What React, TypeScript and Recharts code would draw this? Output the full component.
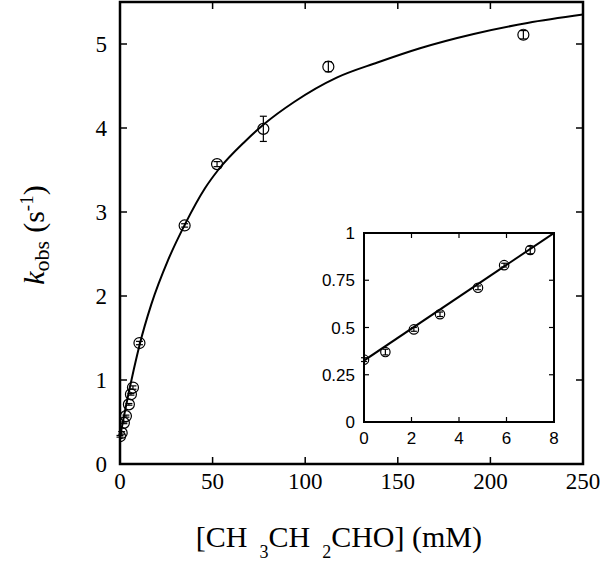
import React from 'react';
import { ComposedChart, Line, Scatter, XAxis, YAxis, ErrorBar, Label, ReferenceArea } from 'recharts';

// low-concentration points (also shown in the inset)
const lowConc = [0, 0.9, 2.1, 3.2, 4.8, 5.9, 7.0];
const lowKobs = [0.33, 0.37, 0.49, 0.57, 0.71, 0.83, 0.91];
const lowErr = [0.01, 0.015, 0.01, 0.012, 0.01, 0.01, 0.02];

// higher-concentration points
const highConc = [10.5, 34.9, 52.4, 77.4, 112.5, 217.8];
const highKobs = [1.44, 2.84, 3.57, 3.99, 4.73, 5.11];
const highErr = [0.02, 0.02, 0.03, 0.15, 0.06, 0.05];

// fitted curve
const fitConc = [0, 2.5, 5, 7.5, 10.6, 16.9, 26, 35, 45.8, 53, 67.5, 78, 94, 117, 139, 162, 191, 220, 250];
const fitKobs = [0.32, 0.61, 0.88, 1.13, 1.42, 1.9, 2.43, 2.85, 3.28, 3.5, 3.84, 4.05, 4.31, 4.6, 4.78, 4.95, 5.12, 5.25, 5.35];

// inset linear fit (end points)
const insetFitConc = [0, 8];
const insetFitKobs = [0.325, 1.0];

const mainXTicks = [0, 50, 100, 150, 200, 250];
const mainYTicks = [0, 1, 2, 3, 4, 5];
const insetXTicks = [0, 2, 4, 6, 8];
const insetYTicks = [0, 0.25, 0.5, 0.75, 1];

const fitData = fitConc.map((x, i) => ({ x, y: fitKobs[i] }));
const lowData = lowConc.map((x, i) => ({ x, y: lowKobs[i], err: lowErr[i] }));
const highData = highConc.map((x, i) => ({ x, y: highKobs[i], err: highErr[i] }));
const mainPoints = [...lowData, ...highData];
const insetFitData = insetFitConc.map((x, i) => ({ x, y: insetFitKobs[i] }));

const SERIF = 'Liberation Serif, Times New Roman, serif';
const SANS = 'Liberation Sans, Arial, sans-serif';

type Box = { top: number; bottom: number; left: number; right: number };

const makeXTick = (box: Box, len: number, sw: number, font: string, size: number) => (props: any) => {
  const { x, y, payload } = props;
  return (
    <g>
      <line x1={x} x2={x} y1={box.bottom} y2={box.bottom - len} stroke="#000" strokeWidth={sw} />
      <line x1={x} x2={x} y1={box.top} y2={box.top + len} stroke="#000" strokeWidth={sw} />
      <text x={x} y={y} dy="0.71em" textAnchor="middle" fontFamily={font} fontSize={size} fill="#000">
        {String(payload.value)}
      </text>
    </g>
  );
};

const makeYTick = (box: Box, len: number, sw: number, font: string, size: number) => (props: any) => {
  const { x, y, payload } = props;
  return (
    <g>
      <line x1={box.left} x2={box.left + len} y1={y} y2={y} stroke="#000" strokeWidth={sw} />
      <line x1={box.right} x2={box.right - len} y1={y} y2={y} stroke="#000" strokeWidth={sw} />
      <text x={x} y={y} dy="0.355em" textAnchor="end" fontFamily={font} fontSize={size} fill="#000">
        {String(payload.value)}
      </text>
    </g>
  );
};

const mainBox: Box = { top: 2, bottom: 464, left: 120, right: 583 };
const insetBox: Box = { top: 13, bottom: 202, left: 64, right: 254 };

const circleShape = (r: number) => (props: any) => (
  <circle cx={props.cx} cy={props.cy} r={r} fill="none" stroke="#000" strokeWidth={1.2} />
);

const XTitle = () => (
  <text x={482} y={547} textAnchor="end" fontFamily={SERIF} fontSize={30} fill="#000">
    [CH
    <tspan fontSize={18} dx={12} dy={11}>3</tspan>
    <tspan dy={-11}>CH</tspan>
    <tspan fontSize={18} dx={12} dy={11}>2</tspan>
    <tspan dy={-11}>CHO] (mM)</tspan>
  </text>
);

const YTitle = () => (
  <text
    x={44}
    y={235}
    transform="rotate(-90, 44, 235)"
    textAnchor="middle"
    fontFamily={SERIF}
    fontSize={30}
    fill="#000"
  >
    <tspan fontStyle="italic">k</tspan>
    <tspan fontSize={22} dy={5}>obs</tspan>
    <tspan dy={-5} dx={8}>(s</tspan>
    <tspan fontSize={19} dy={-11}>-1</tspan>
    <tspan dy={11}>)</tspan>
  </text>
);

export default function App() {
  return (
    <div style={{ position: 'absolute', left: 0, top: 0, width: 600, height: 563, background: '#fff' }}>
      <div style={{ position: 'absolute', left: 0, top: 0 }}>
        <ComposedChart
          width={600}
          height={563}
          data={fitData}
          margin={{ top: 2, right: 17, bottom: 39, left: 0 }}
        >
          <XAxis
            dataKey="x"
            type="number"
            domain={[0, 250]}
            ticks={mainXTicks}
            allowDataOverflow
            height={60}
            axisLine={false}
            tickLine={false}
            tickSize={0}
            tickMargin={9}
            tick={makeXTick(mainBox, 7, 1.5, SERIF, 23)}
          >
            <Label content={() => <XTitle />} />
          </XAxis>
          <YAxis
            type="number"
            domain={[0, 5.5]}
            ticks={mainYTicks}
            allowDataOverflow
            width={120}
            axisLine={false}
            tickLine={false}
            tickSize={0}
            tickMargin={13}
            tick={makeYTick(mainBox, 7, 1.5, SERIF, 23)}
          >
            <Label content={() => <YTitle />} />
          </YAxis>
          <ReferenceArea
            x1={0}
            x2={250}
            y1={0}
            y2={5.5}
            fill="none"
            fillOpacity={0}
            stroke="#000"
            strokeWidth={2.5}
            ifOverflow="visible"
          />
          <Line
            dataKey="y"
            type="monotone"
            stroke="#000"
            strokeWidth={2}
            dot={false}
            isAnimationActive={false}
          />
          <Scatter data={mainPoints} dataKey="y" shape={circleShape(5.5)} isAnimationActive={false}>
            <ErrorBar dataKey="err" direction="y" width={3.5} stroke="#000" strokeWidth={1.2} isAnimationActive={false} />
          </Scatter>
        </ComposedChart>
      </div>
      <div style={{ position: 'absolute', left: 300, top: 220 }}>
        <ComposedChart
          width={270}
          height={240}
          data={insetFitData}
          margin={{ top: 13, right: 16, bottom: 8, left: 20 }}
        >
          <XAxis
            dataKey="x"
            type="number"
            domain={[0, 8]}
            ticks={insetXTicks}
            allowDataOverflow
            height={30}
            axisLine={false}
            tickLine={false}
            tickSize={0}
            tickMargin={10}
            tick={makeXTick(insetBox, 5, 1.2, SANS, 17)}
          />
          <YAxis
            type="number"
            domain={[0, 1]}
            ticks={insetYTicks}
            allowDataOverflow
            width={44}
            axisLine={false}
            tickLine={false}
            tickSize={0}
            tickMargin={9}
            tick={makeYTick(insetBox, 5, 1.2, SANS, 17)}
          />
          <ReferenceArea
            x1={0}
            x2={8}
            y1={0}
            y2={1}
            fill="none"
            fillOpacity={0}
            stroke="#000"
            strokeWidth={2}
            ifOverflow="visible"
          />
          <Line
            dataKey="y"
            type="linear"
            stroke="#000"
            strokeWidth={2}
            dot={false}
            isAnimationActive={false}
          />
          <Scatter data={lowData} dataKey="y" shape={circleShape(4.7)} isAnimationActive={false}>
            <ErrorBar dataKey="err" direction="y" width={3} stroke="#000" strokeWidth={1.2} isAnimationActive={false} />
          </Scatter>
        </ComposedChart>
      </div>
    </div>
  );
}
